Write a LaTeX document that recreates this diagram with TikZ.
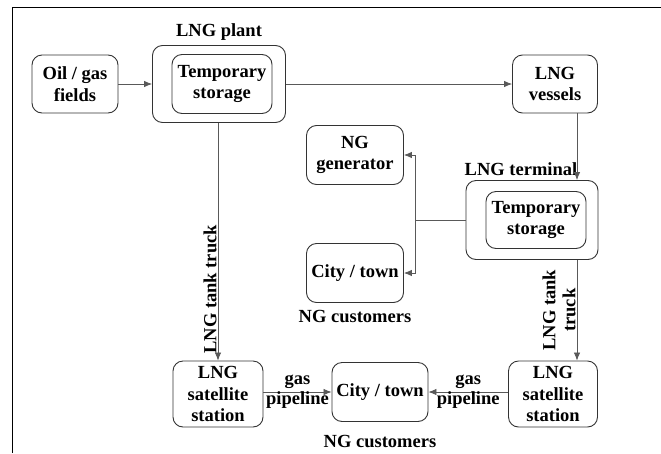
\documentclass[tikz,border=0pt]{standalone}
\usepackage{fontspec}
\setmainfont{Liberation Serif}
\usetikzlibrary{arrows.meta}
\begin{document}
\begin{tikzpicture}
[x=1pt, y=-1pt,
box/.style={draw=black!80, line width=0.9pt, rounded corners=10pt, align=center, inner sep=1pt,
  font=\bfseries\fontsize{18.5}{21.5}\selectfont},
tag/.style={align=center, inner sep=1pt, font=\bfseries\fontsize{18.5}{20}\selectfont},
arr/.style={draw=black!65, line width=0.8pt, -{Latex[length=8pt,width=6.5pt]}},
wire/.style={draw=black!65, line width=0.8pt}]
\useasboundingbox (0,0) rectangle (661,453);
\draw[line width=1pt] (12,453) -- (12,7) -- (661,7);

\node[box, minimum width=86pt, minimum height=58pt] (fields) at (75,84) {Oil / gas\\fields};
\node[box, minimum width=133pt, minimum height=77pt] (plant) at (219,84) {};
\node[box, minimum width=100pt, minimum height=59pt] (store1) at (222,84) {Temporary\\storage};
\node[tag] (plantlbl) at (219,32) {LNG plant};
\node[box, minimum width=85pt, minimum height=58pt] (vessels) at (555,84) {LNG\\vessels};

\node[box, minimum width=97pt, minimum height=59pt] (gen) at (355,155) {NG\\generator};
\node[box, minimum width=132pt, minimum height=79pt] (terminal) at (532,220) {};
\node[box, minimum width=100pt, minimum height=57pt] (store2) at (536,220) {Temporary\\storage};
\node[tag] (termlbl) at (521,169) {LNG terminal};
\node[box, minimum width=97pt, minimum height=59pt] (city1) at (355,273) {City / town};
\node[tag] (cust1) at (355,316) {NG customers};

\node[box, minimum width=90pt, minimum height=66pt] (sat1) at (218,394) {LNG\\satellite\\station};
\node[box, minimum width=96pt, minimum height=59pt] (city2) at (380,392) {City / town};
\node[tag] (cust2) at (380,441) {NG customers};
\node[box, minimum width=89pt, minimum height=66pt] (sat2) at (553,394) {LNG\\satellite\\station};

\coordinate (tx) at (577,0);
\coordinate (jx) at (415,0);

\draw[arr] (fields) -- (plant);
\draw[arr] (plant.east) -- (vessels.west);
\draw[arr] (vessels.south -| tx) -- (terminal.north -| tx);
\draw[wire] (terminal.west) -- (jx |- terminal.west);
\draw[arr] (jx |- terminal.west) |- (gen.east);
\draw[arr] (jx |- terminal.west) |- (city1.east);
\draw[arr] (plant.south -| sat1) -- node[tag, pos=0.7, rotate=90, anchor=south] {LNG tank truck} (sat1.north);
\draw[arr] (terminal.south -| tx) -- node[tag, pos=0.5, rotate=90, anchor=south] {LNG tank\\truck} (sat2.north -| tx);
\draw[arr] (sat1.east |- city2) -- node[tag] {gas\\pipeline} (city2.west);
\draw[arr] (sat2.west |- city2) -- node[tag] {gas\\pipeline} (city2.east);
\end{tikzpicture}
\end{document}
